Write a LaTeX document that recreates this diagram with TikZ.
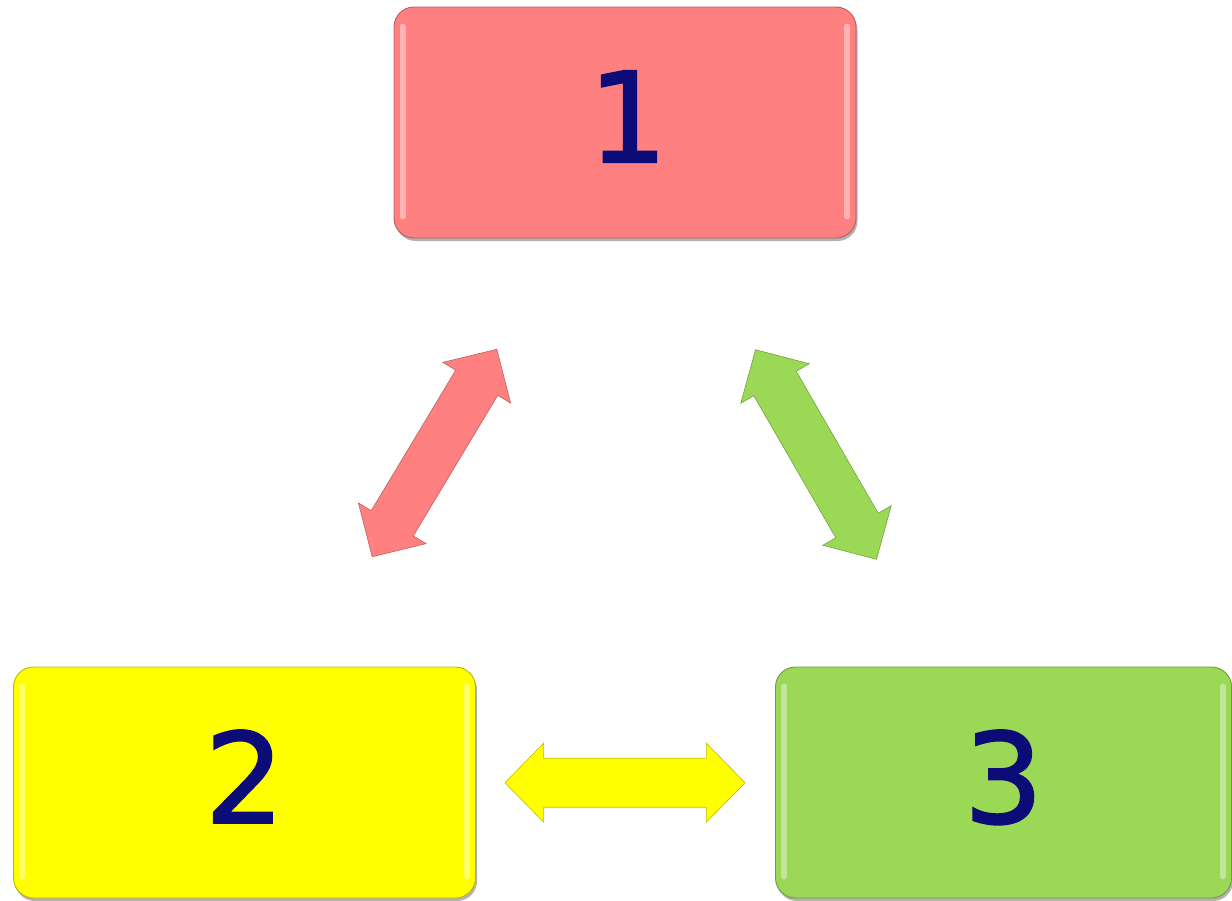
\documentclass[tikz,border=0pt]{standalone}
\usepackage{fontspec}
\newfontfamily\digitfont[FakeBold=1.6]{DejaVu Sans}
\usetikzlibrary{shadows}
\definecolor{boxred}{RGB}{255,128,128}
\definecolor{boxyellow}{RGB}{255,255,0}
\definecolor{boxgreen}{RGB}{155,216,85}
\definecolor{digitblue}{RGB}{12,12,120}
\begin{document}
\begin{tikzpicture}[x=1pt,y=-1pt,
  numbox/.style={draw=#1!72!black, line width=0.9pt, fill=#1, rounded corners=20pt,
    minimum width=462pt, minimum height=231pt, inner sep=0pt,
    font=\digitfont\fontsize{125}{125}\selectfont, text=digitblue, text depth=12pt,
    drop shadow={shadow xshift=1.5pt, shadow yshift=-3pt, opacity=0.3, fill=black}},
  gloss/.style={draw=white, opacity=0.4, line width=6pt, line cap=round},
  arrowbody/.style={fill=#1, draw=#1!75!black, line width=0.6pt,
    drop shadow={shadow xshift=1.5pt, shadow yshift=-2pt, opacity=0.3, fill=black}},
  dblarrow/.pic={
    \path[pic actions] (-121,0) -- (-82,39.5) -- (-82,24.5) -- (82,24.5) -- (82,39.5)
      -- (121,0) -- (82,-39.5) -- (82,-24.5) -- (-82,-24.5) -- (-82,-39.5) -- cycle;}
]
\useasboundingbox (0,0) rectangle (1232,900);

% boxes
\node[numbox=boxred] (b1) at (625,122.5) {\hspace*{6pt}1};
\node[numbox=boxyellow] (b2) at (244.5,782.5) {2};
\node[numbox=boxgreen, minimum width=456pt] (b3) at (1003.5,782.5) {3};

% glossy edge highlights
\foreach \b in {b1,b2,b3}{
  \draw[gloss] ([xshift=9pt,yshift=-20pt]\b.north west) -- ([xshift=9pt,yshift=22pt]\b.south west);
  \draw[gloss] ([xshift=-9pt,yshift=-20pt]\b.north east) -- ([xshift=-9pt,yshift=22pt]\b.south east);
}

% double arrows
\pic[arrowbody=boxred, rotate=59] (a12) at (434.5,453) {dblarrow};
\pic[arrowbody=boxgreen, rotate=-60] (a13) at (816,454.5) {dblarrow};
\pic[arrowbody=boxyellow, xscale=0.992] (a23) at (625,782.7) {dblarrow};
\end{tikzpicture}
\end{document}
